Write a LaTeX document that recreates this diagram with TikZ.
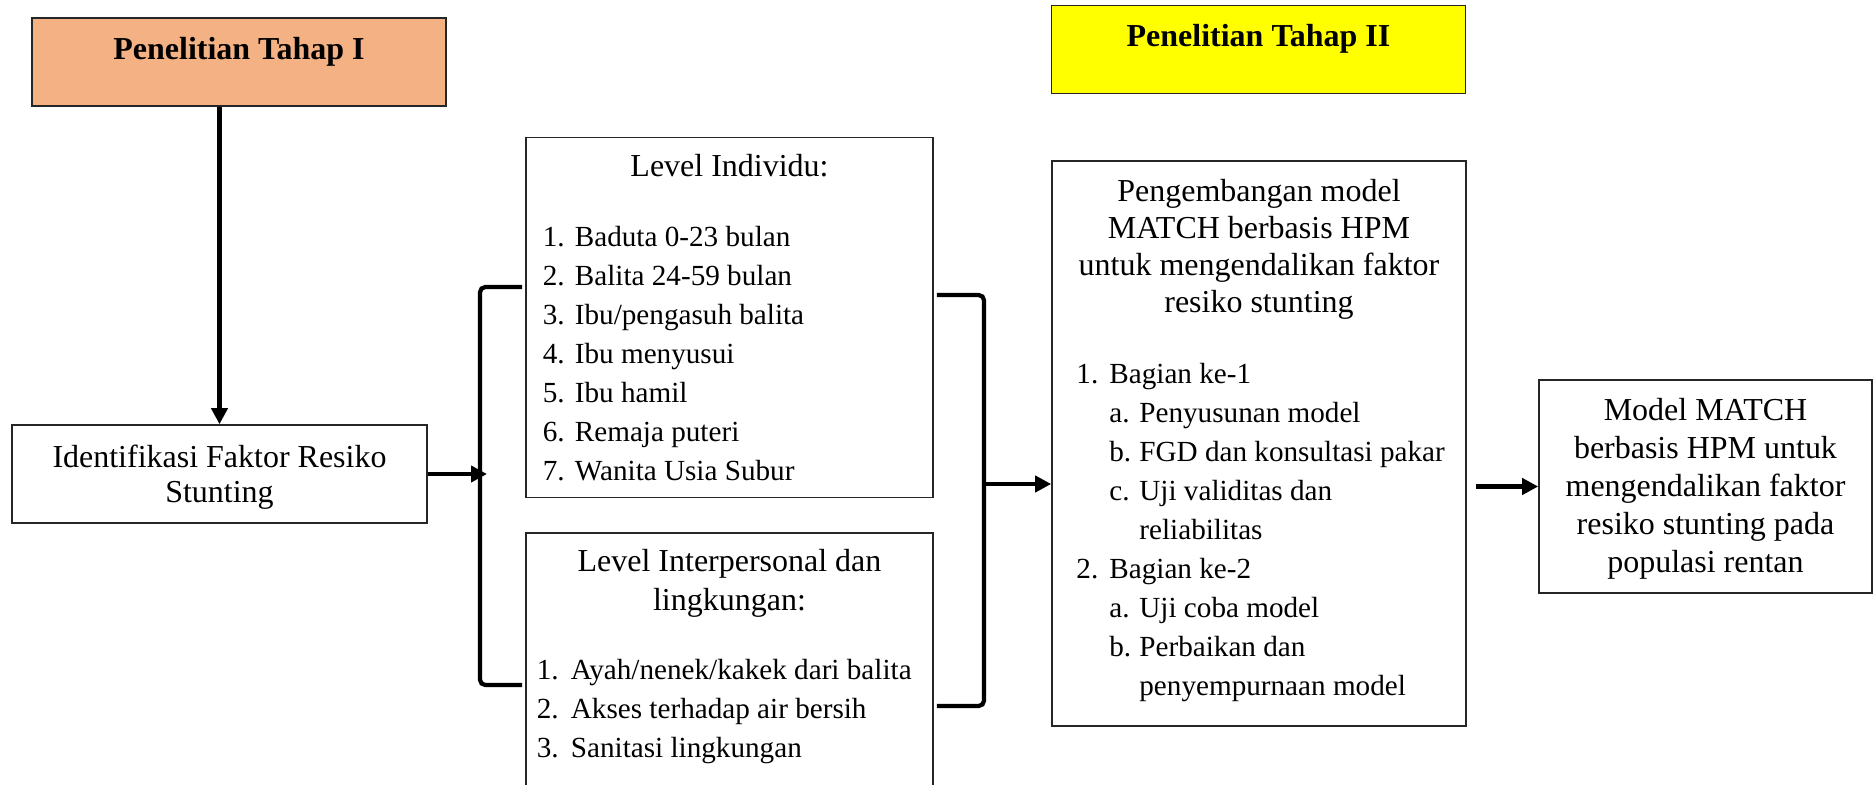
\documentclass[tikz,border=0pt]{standalone}
\usepackage{fontspec}
\setmainfont{Liberation Serif}
\usetikzlibrary{arrows.meta, positioning}
\definecolor{tahapsatu}{HTML}{F4B183}
\definecolor{tahapdua}{HTML}{FFFF00}
% fixed-width list label
\newcommand{\lnum}[2]{\makebox[#1][l]{#2}}
\tikzset{
    % Plain framed box
    box/.style={draw=black!85, line width=0.45pt, inner sep=0pt},
    % Stage headers (bold title near the top)
    stage box/.style={box, font=\fontsize{9.1}{11.1}\selectfont\bfseries,
        minimum width=4.14cm, minimum height=0.88cm, text height=0.1cm, text depth=0.16cm},
    % Normal text
    body text/.style={font=\fontsize{9.1}{11.1}\selectfont, inner sep=0pt},
    list text/.style={font=\fontsize{8.3}{11.1}\selectfont, inner sep=0pt, align=left},
    % Thick arrows and brackets
    connector/.style={line width=1.2pt, -{Triangle[length=1.6mm, width=1.6mm]}},
    bracket/.style={line width=1.2pt, rounded corners=1.5pt}
}

\begin{document}
\begin{tikzpicture}
    \useasboundingbox (0,0) rectangle (18.75,7.84);

    % --- Stage headers ---
    \node[stage box, fill=tahapsatu] (tahap1) at (2.39, 7.22) {Penelitian Tahap I};
    \node[stage box, fill=tahapdua] (tahap2) at (12.585, 7.345) {Penelitian Tahap II};

    % --- Stage I ---
    \node[box, body text, align=center, minimum width=4.15cm, minimum height=0.98cm,
        font=\fontsize{9.1}{10}\selectfont] (ident) at (2.195, 3.10)
        {\rule{0pt}{8.2pt}Identifikasi Faktor Resiko\\Stunting};

    % Level Individu
    \node[box, minimum width=4.07cm, minimum height=3.60cm] (indiv) at (7.295, 4.665) {};
    \node[body text, below=0.165cm of indiv.north] (indivtitle) {Level Individu:};
    \node[list text, below right=0.885cm and 0.17cm of indiv.north west] (indivlist)
        {\lnum{0.32cm}{1.}Baduta 0-23 bulan\\
         \lnum{0.32cm}{2.}Balita 24-59 bulan\\
         \lnum{0.32cm}{3.}Ibu/pengasuh balita\\
         \lnum{0.32cm}{4.}Ibu menyusui\\
         \lnum{0.32cm}{5.}Ibu hamil\\
         \lnum{0.32cm}{6.}Remaja puteri\\
         \lnum{0.32cm}{7.}Wanita Usia Subur};

    % Level Interpersonal
    \node[box, minimum width=4.07cm, minimum height=2.70cm, anchor=north] (inter) at (7.295, 2.52) {};
    \node[body text, align=center, below=0.17cm of inter.north] (intertitle)
        {Level Interpersonal dan\\lingkungan:};
    \node[list text, below right=1.27cm and 0.11cm of inter.north west] (interlist)
        {\lnum{0.34cm}{1.}Ayah/nenek/kakek dari balita\\
         \lnum{0.34cm}{2.}Akses terhadap air bersih\\
         \lnum{0.34cm}{3.}Sanitasi lingkungan};

    % --- Stage II ---
    \node[box, minimum width=4.14cm, minimum height=5.65cm] (kembang) at (12.59, 3.405) {};
    \node[body text, align=center, font=\fontsize{9.1}{10.6}\selectfont,
        below=0.18cm of kembang.north] (kembangtitle)
        {Pengembangan model\\MATCH berbasis HPM\\untuk mengendalikan faktor\\resiko stunting};
    \node[list text, below right=2.025cm and 0.245cm of kembang.north west] (kembanglist)
        {\lnum{0.33cm}{1.}Bagian ke-1\\
         \hspace{0.33cm}\lnum{0.30cm}{a.}Penyusunan model\\
         \hspace{0.33cm}\lnum{0.30cm}{b.}FGD dan konsultasi pakar\\
         \hspace{0.33cm}\lnum{0.30cm}{c.}Uji validitas dan\\
         \hspace{0.63cm}reliabilitas\\
         \lnum{0.33cm}{2.}Bagian ke-2\\
         \hspace{0.33cm}\lnum{0.30cm}{a.}Uji coba model\\
         \hspace{0.33cm}\lnum{0.30cm}{b.}Perbaikan dan\\
         \hspace{0.63cm}penyempurnaan model};

    \node[box, body text, align=center, minimum width=3.33cm, minimum height=2.13cm,
        font=\fontsize{9.1}{10.8}\selectfont] (hasil) at (17.055, 2.975)
        {\rule{0pt}{7.6pt}Model MATCH\\berbasis HPM untuk\\mengendalikan faktor\\resiko stunting pada\\populasi rentan};

    % --- Brackets ---
    \coordinate (lbtop) at (4.80, 4.97);
    \coordinate (lbbot) at (4.80, 0.99);
    \draw[bracket] ([xshift=-0.03cm]indiv.west |- lbtop) -- (lbtop) -- (lbbot)
        -- ([xshift=-0.03cm]indiv.west |- lbbot);

    \coordinate (rbtop) at (9.84, 4.89);
    \coordinate (rbbot) at (9.84, 0.78);
    \coordinate (rbmid) at (9.84, 3.00);
    \draw[bracket] ([xshift=0.03cm]indiv.east |- rbtop) -- (rbtop) -- (rbbot)
        -- ([xshift=0.03cm]indiv.east |- rbbot);

    % --- Arrows ---
    \draw[connector] (tahap1.south -| ident.north) -- (ident.north);
    \draw[connector] (ident.east) -- ([xshift=0.07cm]lbtop |- ident.east);
    \draw[connector] (rbmid) -- (rbmid -| kembang.west);
    \draw[connector] ([xshift=0.09cm]kembang.east |- hasil.west) -- (hasil.west);
\end{tikzpicture}
\end{document}
